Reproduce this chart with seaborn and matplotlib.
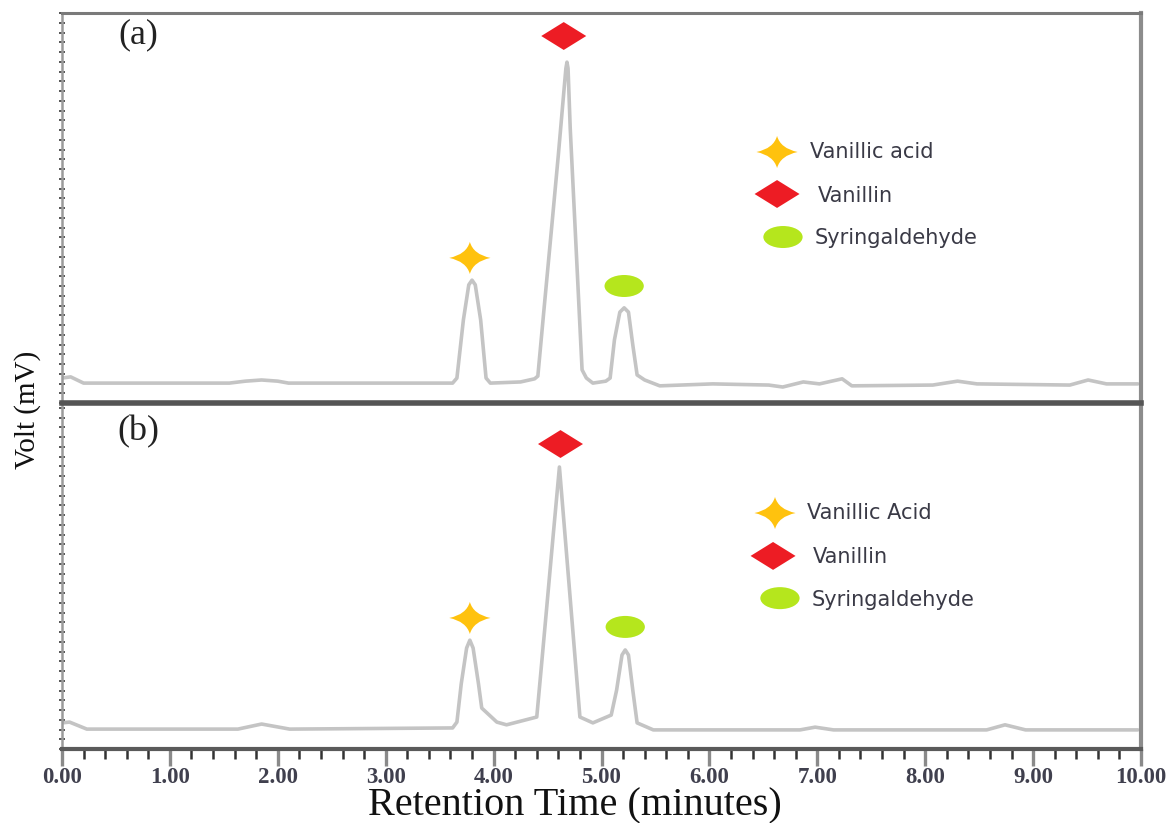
import numpy as np
import pandas as pd
import matplotlib
matplotlib.use("Agg")
import matplotlib.pyplot as plt
import seaborn as sns
from matplotlib.path import Path
from matplotlib.transforms import Affine2D
from matplotlib.ticker import MultipleLocator, FixedLocator

# ---------------- data ----------------
time_a = [0.00, 0.08, 0.20, 1.55, 1.70, 1.85, 2.00, 2.10, 3.62, 3.66, 3.72, 3.77, 3.80, 3.83,
          3.88, 3.93, 3.97, 4.25, 4.38, 4.41, 4.47, 4.54, 4.60, 4.65, 4.67, 4.68, 4.69, 4.71,
          4.74, 4.77, 4.80, 4.82, 4.86, 4.92, 5.04, 5.08, 5.12, 5.17, 5.21, 5.25, 5.29, 5.33,
          5.40, 5.54, 6.03, 6.55, 6.68, 6.87, 7.02, 7.23, 7.32, 8.07, 8.30, 8.48, 9.34, 9.51,
          9.68, 9.97]
volt_a = [6.4, 6.7, 5.1, 5.1, 5.6, 5.9, 5.6, 5.1, 5.1, 6.4, 21.3, 30.3, 31.5, 30.3,
          21.3, 6.4, 5.1, 5.4, 6.2, 6.9, 24.9, 45.6, 63.6, 79.5, 85.8, 87.4, 85.8, 70.5,
          53.6, 36.7, 19.7, 8.5, 6.4, 5.1, 5.6, 6.4, 16.2, 23.3, 24.4, 23.3, 14.9, 7.2,
          5.9, 4.4, 4.9, 4.6, 4.1, 5.4, 4.9, 6.2, 4.4, 4.6, 5.6, 4.9, 4.6, 5.9,
          4.9, 4.9]

time_b = [0.00, 0.07, 0.23, 1.63, 1.85, 2.11, 3.62, 3.66, 3.70, 3.75, 3.78, 3.81, 3.86, 3.89,
          4.03, 4.12, 4.40, 4.44, 4.49, 4.55, 4.59, 4.61, 4.63, 4.68, 4.73, 4.78, 4.80, 4.92,
          5.09, 5.14, 5.19, 5.22, 5.25, 5.29, 5.33, 5.48, 6.84, 6.98, 7.15, 8.57, 8.74, 8.93, 9.97]
volt_b = [6.7, 6.9, 5.1, 5.1, 6.4, 5.1, 5.4, 6.9, 16.7, 25.9, 27.9, 25.9, 16.7, 10.5,
          6.9, 6.2, 8.2, 20.3, 35.6, 54.1, 66.2, 72.3, 65.6, 48.7, 31.8, 14.9, 8.2, 6.7,
          8.7, 15.1, 24.1, 25.4, 24.1, 15.1, 6.7, 4.9, 4.9, 5.6, 4.9, 4.9, 6.2, 4.9, 4.9]

compounds_a = ["Vanillic acid", "Vanillin", "Syringaldehyde"]
compounds_b = ["Vanillic Acid", "Vanillin", "Syringaldehyde"]
mark_time_a = [3.78, 4.65, 5.21]
mark_volt_a = [37.2, 94.1, 30.0]
mark_time_b = [3.78, 4.62, 5.22]
mark_volt_b = [33.6, 78.2, 31.3]
panel_labels = ["(a)", "(b)"]
x_ticks = [0, 1, 2, 3, 4, 5, 6, 7, 8, 9, 10]
x_tick_labels = ["0.00", "1.00", "2.00", "3.00", "4.00", "5.00", "6.00", "7.00", "8.00", "9.00", "10.00"]

# ---------------- marker shapes ----------------
def star_path():
    tips = [(1.0, 0.0), (0.0, 0.78), (-1.0, 0.0), (0.0, -0.78)]
    verts = [tips[0]]
    codes = [Path.MOVETO]
    for i in range(4):
        a = tips[i]
        b = tips[(i + 1) % 4]
        c = (0.17 * np.sign(a[0] + b[0]), 0.17 * np.sign(a[1] + b[1]))
        verts += [c, b]
        codes += [Path.CURVE3, Path.CURVE3]
    verts.append((0, 0))
    codes.append(Path.CLOSEPOLY)
    return Path(verts, codes)

diamond_path = Path([(1, 0), (0, 0.62), (-1, 0), (0, -0.62), (1, 0)],
                    [Path.MOVETO, Path.LINETO, Path.LINETO, Path.LINETO, Path.CLOSEPOLY])
ellipse_path = Path.unit_circle().transformed(Affine2D().scale(1.0, 0.56))
marker_paths = [star_path(), diamond_path, ellipse_path]
marker_colors = ["#FFC20E", "#ED1C24", "#B5E61D"]
marker_sizes = [880, 1050, 800]

# ---------------- figure ----------------
sns.set_style("white")
plt.rcParams["font.family"] = ["Liberation Serif", "DejaVu Serif"]

fig = plt.figure(figsize=(11.72, 8.23), dpi=100)
W, H = 1172, 823
left = 62 / W
width = (1141 - 62) / W
ax_a = fig.add_axes([left, 1 - 403 / H, width, (403 - 13) / H])
ax_b = fig.add_axes([left, 1 - 749 / H, width, (749 - 403) / H])
ax_b.patch.set_visible(False)
ax_a.set_zorder(3)
ax_a.patch.set_visible(False)

df_a = pd.DataFrame({"t": time_a, "v": volt_a})
df_b = pd.DataFrame({"t": time_b, "v": volt_b})

trace_color = "#c4c4c4"
for ax, df, mt, mv, names, ymax in [
    (ax_a, df_a, mark_time_a, mark_volt_a, compounds_a, 100.0),
    (ax_b, df_b, mark_time_b, mark_volt_b, compounds_b, 346 / 3.9),
]:
    sns.lineplot(data=df, x="t", y="v", ax=ax, color=trace_color, linewidth=2.6,
                 sort=False, estimator=None)
    for i in range(3):
        sns.scatterplot(x=[mt[i]], y=[mv[i]], ax=ax, marker=marker_paths[i],
                        s=marker_sizes[i], color=marker_colors[i], edgecolor="none",
                        linewidth=0, zorder=5)
    ax.set_xlim(0, 10)
    ax.set_ylim(0, ymax)
    ax.set_xlabel("")
    ax.set_ylabel("")
    ax.yaxis.set_major_locator(MultipleLocator(2.5))
    ax.tick_params(axis="y", which="both", direction="inout", length=4, width=1.4,
                   color="#555555", labelleft=False, left=True)
    for s in ["left", "right", "top", "bottom"]:
        ax.spines[s].set_visible(True)
    ax.spines["left"].set_color("#9a9a9a")
    ax.spines["left"].set_linewidth(1.8)
    ax.spines["right"].set_color("#8c8c8c")
    ax.spines["right"].set_linewidth(3)

# legend-like keys
leg_a = [(0.6627, 0.6436, 0.6932, 0.6436), (0.6627, 0.5359, 0.7007, 0.531), (0.6682, 0.4256, 0.6979, 0.4231)]
leg_b = [(0.6608, 0.682, 0.6904, 0.682), (0.659, 0.558, 0.696, 0.555), (0.6654, 0.436, 0.695, 0.431)]
for ax, leg, names in [(ax_a, leg_a, compounds_a), (ax_b, leg_b, compounds_b)]:
    for i, (mx, my, tx, ty) in enumerate(leg):
        ax.scatter([mx], [my], transform=ax.transAxes, marker=marker_paths[i],
                   s=marker_sizes[i], color=marker_colors[i], edgecolor="none",
                   linewidth=0, zorder=5, clip_on=False)
        ax.text(tx, ty, names[i], transform=ax.transAxes, ha="left", va="center",
                fontsize=15, color="#3a3a46", family=["DejaVu Sans"])

# top panel
ax_a.tick_params(axis="x", which="both", bottom=False, labelbottom=False)
ax_a.spines["top"].set_color("#7a7a7a")
ax_a.spines["top"].set_linewidth(2.2)
ax_a.spines["bottom"].set_color("#555555")
ax_a.spines["bottom"].set_linewidth(4)

# bottom panel
ax_b.spines["top"].set_visible(False)
ax_b.spines["bottom"].set_color("#5a5a5a")
ax_b.spines["bottom"].set_linewidth(3)
ax_b.xaxis.set_major_locator(FixedLocator(x_ticks))
ax_b.set_xticklabels(x_tick_labels)
ax_b.xaxis.set_minor_locator(MultipleLocator(0.2))
ax_b.tick_params(axis="x", which="major", direction="out", length=12, width=2.4,
                 color="#8a8a8a", labelsize=16.5, labelcolor="#40404e", pad=1, bottom=True)
ax_b.tick_params(axis="x", which="minor", direction="out", length=7, width=1.8,
                 color="#333333", bottom=True)
for lab in ax_b.get_xticklabels():
    lab.set_fontweight("bold")

# panel labels and axis titles
fig.text(138 / W, 1 - 35 / H, panel_labels[0], ha="center", va="center", fontsize=26, color="#222222")
fig.text(138 / W, 1 - 432 / H, panel_labels[1], ha="center", va="center", fontsize=26, color="#222222")
fig.text(28 / W, 1 - 410 / H, "Volt (mV)", rotation=90, ha="center", va="center",
         fontsize=21, color="#111111")
fig.text(575 / W, 1 - 806 / H, "Retention Time (minutes)", ha="center", va="center",
         fontsize=29, color="#111111")

fig.savefig("out.png", dpi=100)
